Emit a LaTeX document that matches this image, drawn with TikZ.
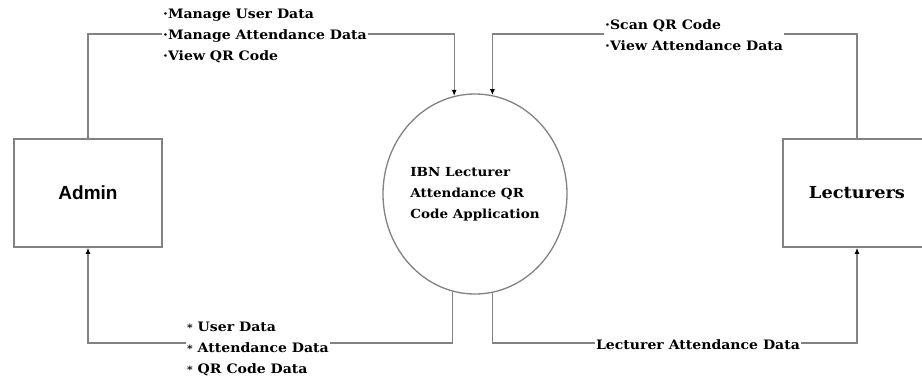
\documentclass[tikz,border=0pt]{standalone}
\usepackage{fontspec}
\setmainfont{DejaVu Serif}
\newfontfamily\adminfont{Liberation Sans}
\newfontfamily\labelfont{DejaVu Serif}[FakeStretch=1.08]
\usetikzlibrary{shapes.geometric,arrows.meta}
\definecolor{linegray}{RGB}{130,130,130}
\newcommand{\myast}{{\fontsize{10}{10}\selectfont*}}
\begin{document}
\begin{tikzpicture}[x=1pt,y=-1pt,
  flow/.style={draw=linegray,line width=1.3pt,-{Latex[length=6pt,width=5pt,color=black]}},
  entity/.style={draw=linegray,line width=1.6pt,minimum width=148pt,minimum height=108pt,inner sep=0pt},
  flowtext/.style={font=\labelfont\bfseries\fontsize{13}{21}\selectfont,align=left,fill=white,inner sep=1pt}]
\useasboundingbox (0,0) rectangle (922,376);
\clip (0,0) rectangle (922,376);
\fill[white] (0,0) rectangle (922,376);

\node[entity,font=\adminfont\bfseries\fontsize{19}{22}\selectfont] (admin) at (88,193) {Admin};
\node[entity,font=\labelfont\bfseries\fontsize{16.5}{22}\selectfont] (lect) at (857,193) {Lecturers};
\node[ellipse,draw=linegray,line width=1.3pt,minimum width=184pt,minimum height=200pt,inner sep=0pt,
      align=left,font=\labelfont\bfseries\fontsize{12.5}{21}\selectfont] (app) at (475,194)
      {IBN Lecturer\\Attendance QR\\Code Application};

\coordinate (topline) at (0,34);
\coordinate (botline) at (0,343);

\draw[flow] (admin.north) -- (admin.north |- topline) -| (app.102.1);
\draw[flow] (lect.north) -- (lect.north |- topline) -| (app.80.2);
\draw[flow] (app.257.9) |- (admin.south |- botline) -- (admin.south);
\draw[flow] (app.280.3) |- (lect.south |- botline) -- (lect.south);

\node[flowtext,anchor=west] (tl) at (162,36) {·Manage User Data\\·Manage Attendance Data\\·View QR Code};
\node[flowtext,anchor=west] (tr) at (604,35) {·Scan QR Code\\·View Attendance Data};
\node[flowtext,anchor=west] (bl) at (186,349) {\myast{} User Data\\\myast{} Attendance Data\\\myast{} QR Code Data};
\node[flowtext] (br) at (698,345) {Lecturer Attendance Data};
\end{tikzpicture}
\end{document}
